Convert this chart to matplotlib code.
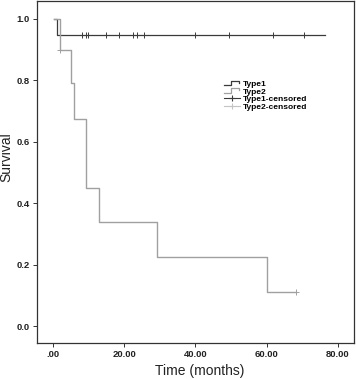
import matplotlib
matplotlib.use("Agg")
import matplotlib.pyplot as plt
from matplotlib.lines import Line2D
from matplotlib.legend_handler import HandlerBase

plt.rcParams['font.family'] = ['Liberation Sans', 'DejaVu Sans']

# Kaplan-Meier step points (time in months, survival)
type1_t = [0.3, 1.1, 76.3]
type1_s = [1.0, 0.947, 0.947]
type1_cens_t = [8.0, 9.3, 9.7, 14.8, 18.5, 22.5, 23.5, 25.6, 39.9, 49.5, 61.7, 70.5]
type1_cens_s = [0.947] * len(type1_cens_t)

type2_t = [0.3, 2.0, 5.0, 5.9, 9.2, 13.0, 29.1, 60.0, 68.2]
type2_s = [1.0, 0.9, 0.79, 0.675, 0.45, 0.338, 0.225, 0.112, 0.112]
type2_cens_t = [2.0, 68.2]
type2_cens_s = [0.9, 0.112]

xticks = [0, 20, 40, 60, 80]
xtick_labels = [".00", "20.00", "40.00", "60.00", "80.00"]
yticks = [0.0, 0.2, 0.4, 0.6, 0.8, 1.0]

c1 = "#3a3a3a"
c2 = "#a0a0a0"
c2_cens = "#c4c4c4"


class StepHandler(HandlerBase):
    # draws the little step icon used in SPSS survival legends
    def create_artists(self, legend, orig_handle, xdescent, ydescent,
                       width, height, fontsize, trans):
        w, h = width, height
        xs = [0, 0.45 * w, 0.45 * w, 0.9 * w, 0.9 * w]
        ys = [0.1 * h, 0.1 * h, 0.95 * h, 0.95 * h, 0.55 * h]
        ln = Line2D([x - xdescent for x in xs], [y - ydescent for y in ys],
                    color=orig_handle.get_color(), lw=0.9, transform=trans)
        return [ln]


fig = plt.figure(figsize=(3.56, 3.79), dpi=100)
ax = fig.add_axes([0.104, 0.095, 0.890, 0.902])

l1, = ax.step(type1_t, type1_s, where="post", color=c1, lw=0.9)
l2, = ax.step(type2_t, type2_s, where="post", color=c2, lw=1.0)
m1, = ax.plot(type1_cens_t, type1_cens_s, ls="none", marker="+", ms=5,
              mew=0.7, color=c1)
m2, = ax.plot(type2_cens_t, type2_cens_s, ls="none", marker="+", ms=5,
              mew=0.7, color=c2)

ax.set_xlim(-4.5, 84.5)
ax.set_ylim(-0.055, 1.058)
ax.set_xticks(xticks)
ax.set_xticklabels(xtick_labels)
ax.set_yticks(yticks)
ax.set_yticklabels([f"{v:.1f}" for v in yticks])
ax.tick_params(length=3, width=0.7, labelsize=6.8, pad=2, color="#333333")
for lab in ax.get_xticklabels() + ax.get_yticklabels():
    lab.set_fontweight("bold")
    lab.set_color("#222222")
for sp in ax.spines.values():
    sp.set_linewidth(0.9)
    sp.set_color("#333333")

ax.set_xlabel("Time (months)", fontsize=10, color="#222222", va="center")
ax.xaxis.set_label_coords(0.514, -0.082)
ax.set_ylabel("Survival", fontsize=10, color="#222222", va="center")
ax.yaxis.set_label_coords(-0.098, 0.544)

h3 = Line2D([], [], color=c1, marker="+", ms=5, mew=0.8, lw=0.8)
h4 = Line2D([], [], color=c2_cens, marker="+", ms=5, mew=0.8, lw=0.8)
leg = ax.legend([l1, l2, h3, h4],
                ["Type1", "Type2", "Type1-censored", "Type2-censored"],
                handler_map={l1: StepHandler(), l2: StepHandler()},
                loc="upper left", bbox_to_anchor=(0.578, 0.78),
                frameon=False, prop={"size": 6, "weight": "bold"},
                handlelength=1.9, handleheight=0.6, handletextpad=0.3,
                labelspacing=0.0, borderpad=0)

fig.savefig("out.png", dpi=100)
